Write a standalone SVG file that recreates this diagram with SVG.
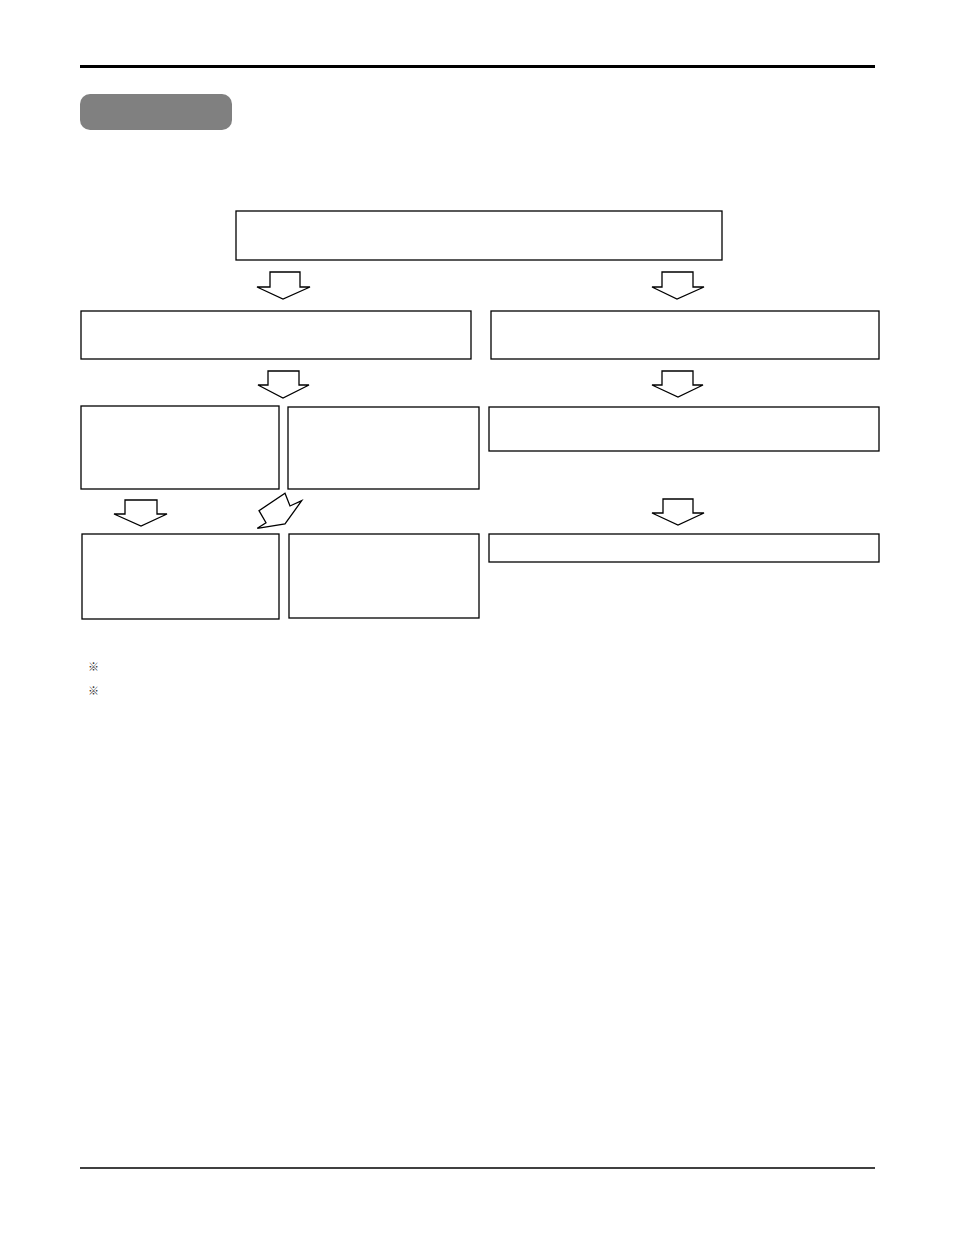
<svg xmlns="http://www.w3.org/2000/svg" width="954" height="1243" viewBox="0 0 954 1243">
<style>
.box{fill:#fff;stroke:#000;stroke-width:1.3}
.arr{fill:#fff;stroke:#000;stroke-width:1.3;stroke-linejoin:miter}
.mark{font-family:"Noto Sans CJK JP","Liberation Sans",sans-serif;font-size:11px;fill:#333}
</style>
<rect width="954" height="1243" fill="#fff"/>
<g id="header">
<line x1="80" y1="66.5" x2="875" y2="66.5" stroke="#000" stroke-width="3"/>
<rect x="80" y="94" width="152" height="36" rx="10" fill="#808080"/>
</g>
<g id="n-top"><rect class="box" x="236" y="211" width="486" height="49"/></g>
<g id="n-left2"><rect class="box" x="81" y="311" width="390" height="48"/></g>
<g id="n-right2"><rect class="box" x="491" y="311" width="388" height="48"/></g>
<g id="n-a3"><rect class="box" x="81" y="406" width="198" height="83"/></g>
<g id="n-b3"><rect class="box" x="288" y="407" width="191" height="82"/></g>
<g id="n-c3"><rect class="box" x="489" y="407" width="390" height="44"/></g>
<g id="n-a4"><rect class="box" x="82" y="534" width="197" height="85"/></g>
<g id="n-b4"><rect class="box" x="289" y="534" width="190" height="84"/></g>
<g id="n-c4"><rect class="box" x="489" y="534" width="390" height="28"/></g>
<g id="connectors">
<polygon class="arr" points="270,272 300,272 300,287 310,287 283,299 257,287 270,287"/>
<polygon class="arr" points="662,272 693,272 693,287 704,287 677,299 652,287 662,287"/>
<polygon class="arr" points="268,371 299,371 299,385 309,385 283,398 258,385 268,385"/>
<polygon class="arr" points="662,371 693,371 693,385 703,385 678,397 652,385 662,385"/>
<polygon class="arr" points="125,500 157,500 157,514 167,514 141,526 114,514 125,514"/>
<polygon class="arr" points="285,493.3 290,506 301.7,500.7 285,524 257.3,528.3 266,522.7 259,510.7"/>
<polygon class="arr" points="663,499 693,499 693,513 704,513 678,525 652,513 663,513"/>
</g>
<g id="notes">
<text class="mark" x="88" y="671">※</text>
<text class="mark" x="88" y="695">※</text>
</g>
<line x1="80" y1="1168" x2="875" y2="1168" stroke="#000" stroke-width="1.3"/>
</svg>
